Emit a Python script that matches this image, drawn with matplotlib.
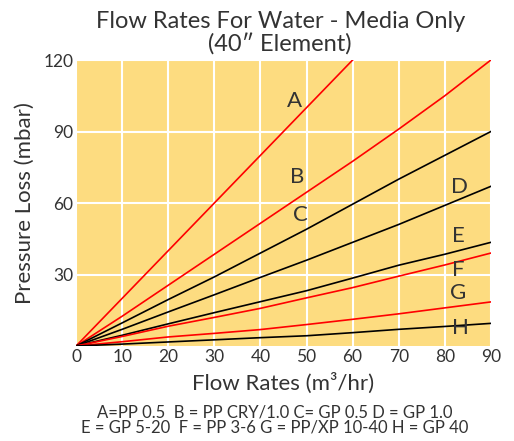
import numpy as np
import matplotlib.pyplot as plt

plt.rcParams['font.family'] = ['Lato', 'DejaVu Sans']

# flow rate (m3/hr) sample points
flow = [0, 10, 20, 30, 40, 50, 60, 70, 80, 90]
flow_a = [0, 10, 20, 30, 40, 50, 60]

# pressure loss (mbar)
loss_a = [0, 20, 40, 60, 80, 100, 120]
loss_b = [0, 12.5, 25.5, 38.5, 51.5, 64.5, 77.5, 91, 105, 120]
loss_c = [0, 9.7, 19.5, 29, 39, 49, 59.5, 70, 80, 90]
loss_d = [0, 7, 14.3, 21.5, 28.8, 36, 43.5, 51, 59, 67]
loss_e = [0, 4.5, 9.3, 14, 18.6, 23.2, 28.5, 33.9, 38.5, 43.5]
loss_f = [0, 4, 8.3, 12, 15.8, 20.2, 24.5, 29.3, 34, 39]
loss_g = [0, 1.8, 3.8, 5.3, 6.9, 9, 11.2, 13.5, 16, 18.5]
loss_h = [0, 0.8, 1.7, 2.6, 3.5, 4.3, 5.6, 7, 8.2, 9.5]

labels = ['A', 'B', 'C', 'D', 'E', 'F', 'G', 'H']
label_x = [47.5, 47.9, 48.6, 83.1, 82.9, 82.9, 82.9, 83.3]
label_y = [102.6, 70.8, 54.9, 66.6, 46, 31.8, 22.2, 7.5]

txt = '#333333'
fig = plt.figure(figsize=(5.14, 4.41), dpi=100)
ax = fig.add_axes([0.148, 0.2154, 0.807, 0.6485])
ax.set_facecolor('#FDDC80')

ax.plot(flow_a, loss_a, color='red', lw=1.2)
ax.plot(flow, loss_b, color='red', lw=1.2)
ax.plot(flow, loss_c, color='black', lw=1.2)
ax.plot(flow, loss_d, color='black', lw=1.2)
ax.plot(flow, loss_e, color='black', lw=1.2)
ax.plot(flow, loss_f, color='red', lw=1.2)
ax.plot(flow, loss_g, color='red', lw=1.2)
ax.plot(flow, loss_h, color='black', lw=1.2)

for l, x, y in zip(labels, label_x, label_y):
    ax.text(x, y, l, fontsize=16, color=txt, ha='center', va='center')

ax.set_xlim(0, 90)
ax.set_ylim(0, 120)
ax.set_xticks(range(0, 91, 10))
ax.set_yticks([30, 60, 90, 120])
ax.grid(True, color='white', lw=1.5)
ax.set_axisbelow(True)
for s in ax.spines.values():
    s.set_visible(False)
ax.tick_params(length=0, labelsize=12.5, labelcolor=txt, pad=2)

ax.set_xlabel('Flow Rates (m³/hr)', fontsize=16, color=txt, labelpad=6)
ax.set_ylabel('Pressure Loss (mbar)', fontsize=16, color=txt, labelpad=6)

fig.text(0.545, 0.975, 'Flow Rates For Water - Media Only\n(40\u2033 Element)',
         ha='center', va='top', fontsize=17, color=txt, linespacing=1.05)
fig.text(0.535, 0.047, 'A=PP 0.5  B = PP CRY/1.0 C= GP 0.5 D = GP 1.0\nE = GP 5-20  F = PP 3-6 G = PP/XP 10-40 H = GP 40',
         ha='center', va='center', fontsize=12, color=txt, linespacing=0.9)

fig.savefig('out.png', dpi=100)
